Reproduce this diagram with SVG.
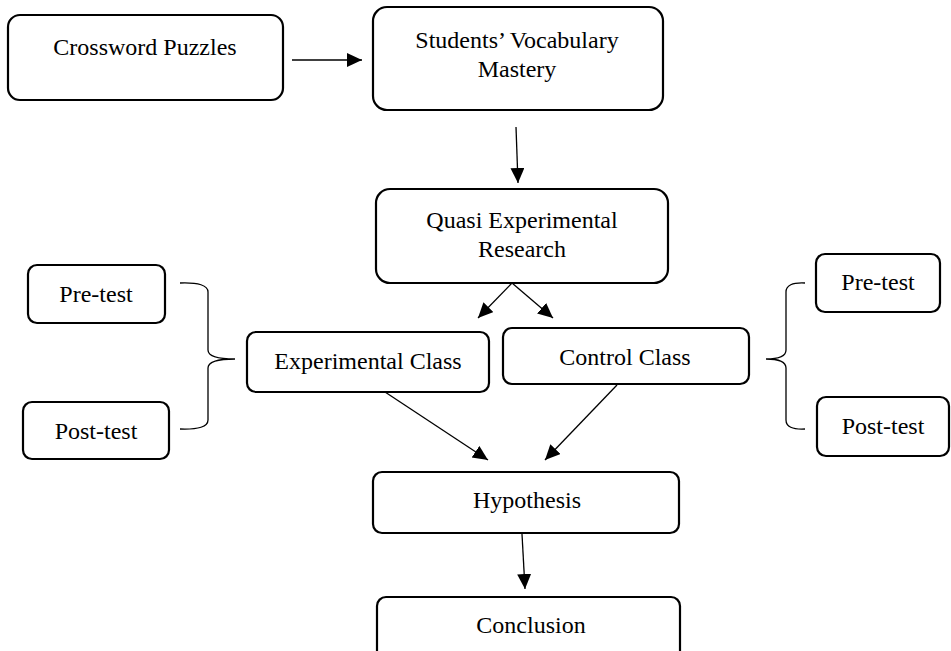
<svg xmlns="http://www.w3.org/2000/svg" width="951" height="651" viewBox="0 0 951 651">
<style>
.box{fill:#fff;stroke:#000;stroke-width:2.2}
.t{font-family:"Liberation Serif","Times New Roman",serif;font-size:24px;fill:#000;text-anchor:middle}
.c{stroke:#000;stroke-width:1.3;fill:none}
</style>
<defs>
<marker id="ah" markerUnits="userSpaceOnUse" markerWidth="16" markerHeight="15" refX="15" refY="7" orient="auto">
<path d="M0,0 L15,7 L0,14 z" fill="#000"/>
</marker>
</defs>
<rect width="951" height="651" fill="#fff"/>
<g id="crossword">
<rect class="box" x="8" y="15" width="275" height="85" rx="12"/>
<text class="t" x="145" y="55">Crossword Puzzles</text>
</g>
<g id="students">
<rect class="box" x="373" y="7" width="290" height="103" rx="14"/>
<text class="t" x="517" y="48">Students’ Vocabulary</text>
<text class="t" x="517" y="77">Mastery</text>
</g>
<g id="quasi">
<rect class="box" x="376" y="189" width="292" height="94" rx="14"/>
<text class="t" x="522" y="228">Quasi Experimental</text>
<text class="t" x="522" y="257">Research</text>
</g>
<g id="pretest-left">
<rect class="box" x="28" y="265" width="137" height="58" rx="9"/>
<text class="t" x="96" y="302">Pre-test</text>
</g>
<g id="posttest-left">
<rect class="box" x="23" y="402" width="146" height="57" rx="9"/>
<text class="t" x="96" y="439">Post-test</text>
</g>
<g id="experimental">
<rect class="box" x="247" y="332" width="242" height="60" rx="9"/>
<text class="t" x="368" y="369">Experimental Class</text>
</g>
<g id="control">
<rect class="box" x="503" y="328" width="246" height="56" rx="9"/>
<text class="t" x="625" y="365">Control Class</text>
</g>
<g id="pretest-right">
<rect class="box" x="816" y="254" width="124" height="58" rx="9"/>
<text class="t" x="878" y="290">Pre-test</text>
</g>
<g id="posttest-right">
<rect class="box" x="817" y="397" width="132" height="59" rx="9"/>
<text class="t" x="883" y="434">Post-test</text>
</g>
<g id="hypothesis">
<rect class="box" x="373" y="472" width="306" height="61" rx="9"/>
<text class="t" x="527" y="508">Hypothesis</text>
</g>
<g id="conclusion">
<rect class="box" x="377" y="597" width="303" height="70" rx="9"/>
<text class="t" x="531" y="633">Conclusion</text>
</g>
<g id="connectors">
<line class="c" x1="292" y1="60" x2="362" y2="60" marker-end="url(#ah)"/>
<line class="c" x1="516" y1="127" x2="518" y2="183" marker-end="url(#ah)"/>
<line class="c" x1="512" y1="283" x2="478" y2="318" marker-end="url(#ah)"/>
<line class="c" x1="512" y1="283" x2="553" y2="318" marker-end="url(#ah)"/>
<line class="c" x1="385" y1="392" x2="488" y2="460" marker-end="url(#ah)"/>
<line class="c" x1="617" y1="385" x2="545" y2="460" marker-end="url(#ah)"/>
<line class="c" x1="522" y1="534" x2="525" y2="589" marker-end="url(#ah)"/>
<path class="c" d="M180,283 Q208,282 208,292 L208,350 Q208,359 235,359 Q208,359 208,368 L208,420 Q208,430 180,429"/>
<path class="c" d="M805,283 Q786,282 786,292 L786,350 Q786,359 766,359 Q786,359 786,368 L786,420 Q786,430 805,429"/>
</g>
</svg>
